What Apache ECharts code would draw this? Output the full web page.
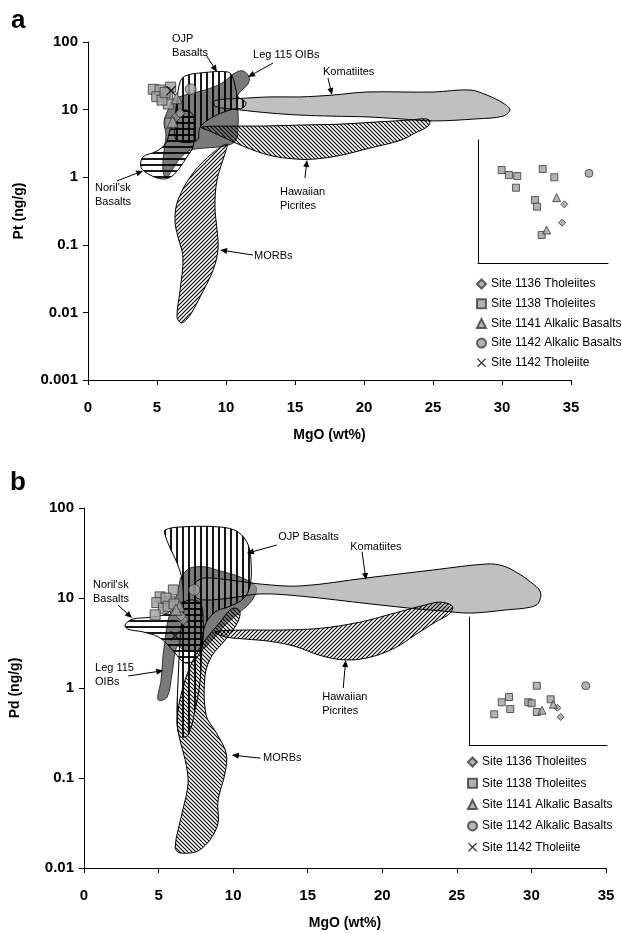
<!DOCTYPE html>
<html>
<head>
<meta charset="utf-8">
<script src="https://cdn.jsdelivr.net/npm/echarts@6/dist/echarts.min.js"></script>
<style>
  html, body { margin: 0; padding: 0; background: #fff; }
  #chart { width: 622px; height: 933px; }
</style>
</head>
<body>
<div id="chart"></div>
<script>
// ---- data: fields (MgO wt%, Pt or Pd ng/g) ----
const komatiitesA = [[9.2,13.6],[11.01,14.6],[13.19,15.4],[15.36,15.4],[17.75,16.4],[20.22,18.2],[25,18.2],[27.68,19.5],[28.91,16.4],[30.07,12.5],[30.58,9.9],[30.07,8],[28.19,7.3],[25,6.8],[22.61,7.3],[20.22,7.8],[17.75,8],[15.36,8.3],[13.19,8.9],[11.01,9.9],[9.2,11.2]];
const ojpA = [[6.67,25.6],[7.03,31.4],[8.12,34.8],[10.14,36],[10.51,29.3],[10.72,19.5],[10.87,15.4],[11.23,13.9],[11.45,12.5],[11.23,10.6],[10.51,10.2],[9.06,7.8],[8.12,5.5],[7.9,3.5],[6.45,3.5],[6.3,6.3],[6.45,13.9]];
const leg115A = [[11.23,37.3],[11.67,30.4],[11.59,23.9],[11.01,18.2],[10.72,13.9],[10.87,9.2],[10.87,5.9],[10.72,3.5],[9.93,2.9],[8.48,2.7],[7.39,2.5],[6.67,1.9],[6.09,1.28],[5.65,0.97],[5.43,1.28],[5.51,2.5],[5.65,4.2],[5.51,6.6],[5.8,9.9],[6.16,13.9],[7.03,16.4],[8.48,19.5],[9.71,24.7],[10.65,34.8]];
const norilskA = [[5.43,0.94],[4.49,1.08],[3.84,1.4],[3.99,2],[4.93,2.4],[5.65,3.2],[5.94,5],[6.3,8.3],[7.03,9.9],[7.61,8.3],[7.68,5],[7.61,2.8],[7.17,2],[6.67,1.4],[6.09,1.04]];
const hawaiianA = [[8.19,5.5],[10.29,5.7],[12.46,5.7],[15.36,5.9],[18.26,6.1],[21.16,6.6],[23.33,7],[24.42,7.3],[24.78,6.8],[24.64,5.7],[23.7,4.5],[22.61,3.5],[20.43,2.7],[18.26,2.1],[16.45,1.86],[15,1.86],[13.19,2.1],[11.38,2.8],[9.93,3.8],[8.84,4.8]];
const morbA = [[10.07,3.1],[10,2.5],[9.35,0.91],[9.2,0.36],[9.35,0.166],[9.42,0.084],[9.06,0.042],[8.12,0.0169],[7.54,0.0101],[7.1,0.0077],[6.74,0.007],[6.45,0.0086],[6.67,0.021],[6.88,0.066],[6.52,0.13],[6.3,0.23],[6.52,0.46],[7.61,1.15],[9.06,2.3]];

const komatiitesB = [[7.32,12.3],[7.52,15.1],[8.12,16.7],[9.8,15.8],[11.81,14.3],[14.5,13.6],[18.93,16.7],[23.42,20.5],[27.05,23.9],[28.12,22.7],[29.06,19],[29.93,15.1],[30.6,11.7],[30.47,8.8],[29.93,7.9],[28.39,7.4],[25.91,6.8],[23.89,7.2],[22.55,7.5],[19.19,8.6],[14.5,10.5],[11.81,11.1],[9.8,10],[8.12,9.5],[7.45,10.3]];
const ojpB = [[5.44,57],[6.44,61.5],[9.13,61.5],[10.34,54],[11.01,38.8],[11.21,23.3],[11.14,13.9],[10.74,10],[9.8,8.1],[8.79,7],[8.12,5],[7.92,3],[7.79,1.23],[7.45,0.57],[6.98,0.3],[6.44,0.29],[6.24,0.44],[6.31,1.23],[6.44,3.4],[6.64,8.4],[6.58,15.8],[6.24,24.5],[5.77,36],[5.44,50]];
const leg115B = [[6.51,17.1],[7.11,21.5],[8.12,22.1],[9.13,20],[10.47,17.1],[11.54,13.2],[11.28,9.5],[10.47,7],[9.46,5],[8.59,3.4],[7.79,2.6],[6.78,2.6],[6.24,2.9],[5.91,1.47],[5.57,0.79],[4.97,0.74],[5.17,1.23],[5.3,2.3],[5.44,3.4],[5.64,5.7],[6.11,9.5],[6.38,13.9]];
const norilskB = [[2.75,5],[3.22,5.8],[4.43,6.1],[5.44,6.6],[6.31,8.4],[7.11,9.5],[7.79,8.8],[7.99,5.7],[7.92,3],[7.45,2.05],[6.78,1.9],[6.24,2.3],[5.64,3],[4.97,3.7],[3.96,4.2],[2.95,4.5]];
const hawaiianB = [[8.79,4.2],[10.47,4.4],[13.15,4.4],[15.84,4.6],[18.52,5.4],[20.54,6.6],[22.55,8.1],[23.89,9],[24.7,8.1],[24.56,6.8],[23.56,5.4],[22.21,3.9],[20.87,2.8],[19.19,2.2],[17.52,2.05],[15.84,2.3],[14.16,2.9],[12.48,3.3],[10.81,3.5],[9.46,3.7]];
const morbB = [[10.2,7.7],[10.47,6.8],[10.2,5],[9.46,3.4],[8.59,2.3],[8.12,1.39],[8.19,0.5],[8.86,0.32],[9.53,0.19],[9.46,0.114],[8.99,0.057],[8.93,0.029],[7.79,0.016],[6.44,0.0147],[6.11,0.017],[6.58,0.041],[6.98,0.088],[6.78,0.16],[6.44,0.26],[6.24,0.44],[6.64,1.03],[7.32,2.05],[8.12,3.4],[9.13,5.4],[9.8,7.4]];

// ---- data: samples ----
const siteNames = ['Site 1136 Tholeiites', 'Site 1138 Tholeiites', 'Site 1141 Alkalic Basalts', 'Site 1142 Alkalic Basalts', 'Site 1142 Tholeiite'];
const site1136A = [[6.67,8.8],[6.3,7.5]];
const site1138A = [[4.73,20],[5.22,19.5],[5.99,21.5],[5.78,16.4],[4.98,15.5],[5.82,12.1],[5.94,6.3],[5.36,13.8],[5.58,18]];
const site1141A = [[6.43,14.7],[6.14,6.6]];
const site1142AlkA = [[7.44,20]];
const site1142TholA = [[6.01,19]];
const site1136B = [[6.66,5.7],[6.51,6.3]];
const site1138B = [[5.99,12.3],[5.1,10.3],[5.77,9.1],[4.88,8.9],[5.32,7.7],[4.77,6.5],[5.5,10],[5.64,8.1],[6.04,8.6]];
const site1141B = [[6.4,8.1],[6.17,7.4]];
const site1142AlkB = [[7.4,12.3]];
const site1142TholB = [[6.11,3.8]];

// inset panels (arbitrary 0-100 frame)
const inset1136A = [[66.4,47.7],[64.6,32.8]];
const inset1138A = [[18.2,75.6],[23.8,71.5],[30.2,70.7],[29.2,61.2],[49.8,76.4],[58.7,69.7],[43.8,51.2],[45.4,45.8],[49,22.8]];
const inset1141A = [[60.5,53.1],[52.8,26.8]];
const inset1142A = [[85.4,72.9]];
const inset1136B = [[64,29.1],[66.4,21.9]];
const inset1138B = [[18.3,24],[23.7,33.4],[29,37.5],[29.9,28.1],[43,33.4],[45.4,32.6],[49.1,46.3],[49.1,25.8],[59.2,35.7]];
const inset1141B = [[52.9,27.1],[61.1,31.8]];
const inset1142B = [[84.6,46.3]];

// ---- annotations ----
const notesA = ['OJP\nBasalts', 'Leg 115 OIBs', 'Komatiites', "Noril'sk\nBasalts", 'Hawaiian\nPicrites', 'MORBs'];
const notePosA = [[6.09,87.3],[11.96,64],[17.03,36],[0.51,0.546],[13.91,0.476],[12.03,0.0683]];
const arrowFromA = [[8.55,64.2],[13.41,48.9],[17.39,29.3],[2.1,0.88],[15.72,0.97],[11.96,0.0705]];
const arrowToA = [[9.35,36],[11.59,30.4],[17.68,16.4],[3.99,1.24],[15.87,1.8],[9.57,0.084]];
const notesB = ['OJP Basalts', 'Komatiites', "Noril'sk\nBasalts", 'Leg 115\nOIBs', 'Hawaiian\nPicrites', 'MORBs'];
const notePosB = [[13.02,47.6],[17.85,36.9],[0.6,11.7],[0.74,1.39],[15.97,0.664],[12.01,0.167]];
const arrowFromB = [[12.93,38.8],[18.64,32.7],[2.28,8.36],[2.97,1.36],[17.38,1.0],[11.83,0.166]];
const arrowToB = [[10.92,31.4],[18.91,15.8],[3.22,6.0],[5.32,1.56],[17.55,2.05],[9.91,0.18]];

const FONT = '"Liberation Sans", Arial, sans-serif';
const xMark = 'path://M0,1L1,0L5,4L9,0L10,1L6,5L10,9L9,10L5,6L1,10L0,9L4,5Z';
const siteSymbols = ['diamond', 'rect', 'triangle', 'circle', xMark];
const siteSizes = [10, 10, 11, 11, 10];

function hatch(kind) {
  const s = (kind === 'v' || kind === 'h') ? 6 : 4;
  const c = document.createElement('canvas');
  c.width = s; c.height = s;
  const g = c.getContext('2d');
  g.strokeStyle = '#000';
  g.lineWidth = (kind === 'v' || kind === 'h') ? 1.8 : 1.1;
  g.beginPath();
  if (kind === 'v') { g.moveTo(s / 2, 0); g.lineTo(s / 2, s); }
  else if (kind === 'h') { g.moveTo(0, s / 2); g.lineTo(s, s / 2); }
  else if (kind === 'up') {
    g.moveTo(0, s); g.lineTo(s, 0);
    g.moveTo(-1, 1); g.lineTo(1, -1);
    g.moveTo(s - 1, s + 1); g.lineTo(s + 1, s - 1);
  } else {
    g.moveTo(0, 0); g.lineTo(s, s);
    g.moveTo(s - 1, -1); g.lineTo(s + 1, 1);
    g.moveTo(-1, s - 1); g.lineTo(1, s + 1);
  }
  g.stroke();
  return { image: c, repeat: 'repeat' };
}

function field(pts, axis, fill, stroke) {
  return {
    type: 'custom', xAxisIndex: axis, yAxisIndex: axis, clip: false, silent: true,
    data: pts,
    renderItem: function (params, api) {
      if (params.dataIndex !== 0) return;
      return {
        type: 'polygon',
        shape: { points: pts.map(p => api.coord(p)), smooth: 0.35 },
        style: { fill: fill, stroke: stroke || '#000', lineWidth: 1 }
      };
    }
  };
}

function notes(texts, pos, from, to, axis) {
  return {
    type: 'custom', xAxisIndex: axis, yAxisIndex: axis, clip: false, silent: true,
    data: pos,
    renderItem: function (params, api) {
      const i = params.dataIndex;
      const p = api.coord(pos[i]), a = api.coord(from[i]), b = api.coord(to[i]);
      const dx = b[0] - a[0], dy = b[1] - a[1], len = Math.sqrt(dx * dx + dy * dy);
      const ux = dx / len, uy = dy / len;
      const head = [b, [b[0] - ux * 7 - uy * 3, b[1] - uy * 7 + ux * 3], [b[0] - ux * 7 + uy * 3, b[1] - uy * 7 - ux * 3]];
      return {
        type: 'group',
        children: [
          { type: 'text', x: p[0], y: p[1], style: { text: texts[i], font: '11px ' + FONT, fill: '#000', align: 'left', verticalAlign: 'middle', lineHeight: 14 } },
          { type: 'line', shape: { x1: a[0], y1: a[1], x2: b[0] - ux * 5, y2: b[1] - uy * 5 }, style: { stroke: '#000', lineWidth: 1 } },
          { type: 'polygon', shape: { points: head }, style: { fill: '#000' } }
        ]
      };
    }
  };
}

function sites(lists, axis, scale) {
  return lists.map((d, i) => ({
    type: 'scatter', name: siteNames[i], xAxisIndex: axis, yAxisIndex: axis,
    symbol: siteSymbols[i], symbolSize: Math.round(siteSizes[i] * scale),
    data: d, z: 5, silent: true,
    itemStyle: i === 4 ? { color: '#000' } : { color: '#a0a0a0', borderColor: '#3a3a3a', borderWidth: 1 }
  }));
}

const chart = echarts.init(document.getElementById('chart'));

const mainX = (gi) => ({
  type: 'value', gridIndex: gi, min: 0, max: 35, interval: 5,
  name: 'MgO (wt%)', nameLocation: 'middle', nameGap: 48,
  nameTextStyle: { fontFamily: FONT, fontWeight: 'bold', fontSize: 14, color: '#000' },
  axisLine: { lineStyle: { color: '#000', width: 1 } },
  axisTick: { inside: false, length: 5, lineStyle: { color: '#000' } },
  axisLabel: { fontFamily: FONT, fontWeight: 'bold', fontSize: 15, color: '#000', margin: 20 },
  splitLine: { show: false }
});
const mainY = (gi, min, name) => ({
  type: 'log', logBase: 10, gridIndex: gi, min: min, max: 100,
  name: name, nameLocation: 'middle', nameGap: 62, nameRotate: 90,
  nameTextStyle: { fontFamily: FONT, fontWeight: 'bold', fontSize: 14, color: '#000' },
  axisLine: { show: true, lineStyle: { color: '#000', width: 1 } },
  axisTick: { show: true, inside: false, length: 5, lineStyle: { color: '#000' } },
  axisLabel: {
    fontFamily: FONT, fontWeight: 'bold', fontSize: 15, color: '#000', margin: 10,
    formatter: v => v >= 1 ? String(Math.round(v)) : String(+v.toPrecision(1))
  },
  splitLine: { show: false }, minorTick: { show: false }
});
const insetAxis = (gi) => ({
  type: 'value', gridIndex: gi, min: 0, max: 100,
  axisLine: { show: true, lineStyle: { color: '#000', width: 1 } },
  axisTick: { show: false }, axisLabel: { show: false }, splitLine: { show: false }
});

const legendBase = {
  data: siteNames, orient: 'vertical', itemWidth: 9, itemHeight: 9, padding: 0,
  selectedMode: false,
  textStyle: { fontFamily: FONT, fontSize: 12, color: '#000', lineHeight: 14 }
};

chart.setOption({
  animation: false,
  backgroundColor: '#fff',
  grid: [
    { left: 88, top: 42, width: 483, height: 338 },
    { left: 84, top: 508, width: 522, height: 360 },
    { left: 478, top: 140, width: 130, height: 123 },
    { left: 469, top: 617, width: 138, height: 128 }
  ],
  xAxis: [mainX(0), mainX(1), insetAxis(2), insetAxis(3)],
  yAxis: [mainY(0, 0.001, 'Pt (ng/g)'), mainY(1, 0.01, 'Pd (ng/g)'), insetAxis(2), insetAxis(3)],
  legend: [
    Object.assign({ left: 476, top: 277, itemGap: 5.7 }, legendBase),
    Object.assign({ left: 467, top: 755, itemGap: 7.3 }, legendBase)
  ],
  graphic: [
    { type: 'text', left: 11, top: 8, style: { text: 'a', font: 'bold 26px ' + FONT, fill: '#000' } },
    { type: 'text', left: 10, top: 470, style: { text: 'b', font: 'bold 26px ' + FONT, fill: '#000' } }
  ],
  series: [
    field(leg115A, 0, 'rgba(85,85,85,0.78)', '#333'),
    field(komatiitesA, 0, 'rgba(150,150,150,0.6)'),
    field(hawaiianA, 0, hatch('down')),
    field(morbA, 0, hatch('up')),
    field(ojpA, 0, hatch('v')),
    field(norilskA, 0, hatch('h')),
    field(leg115B, 1, 'rgba(85,85,85,0.78)', '#333'),
    field(komatiitesB, 1, 'rgba(150,150,150,0.6)'),
    field(hawaiianB, 1, hatch('up')),
    field(morbB, 1, hatch('down')),
    field(ojpB, 1, hatch('v')),
    field(norilskB, 1, hatch('h')),
    notes(notesA, notePosA, arrowFromA, arrowToA, 0),
    notes(notesB, notePosB, arrowFromB, arrowToB, 1),
    ...sites([site1136A, site1138A, site1141A, site1142AlkA, site1142TholA], 0, 1),
    ...sites([site1136B, site1138B, site1141B, site1142AlkB, site1142TholB], 1, 1),
    ...sites([inset1136A, inset1138A, inset1141A, inset1142A], 2, 0.7),
    ...sites([inset1136B, inset1138B, inset1141B, inset1142B], 3, 0.7)
  ]
});
</script>
</body>
</html>
